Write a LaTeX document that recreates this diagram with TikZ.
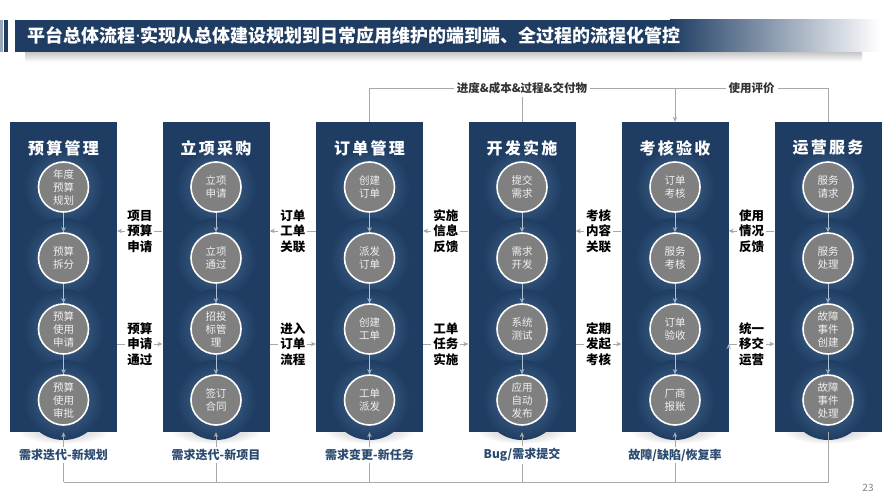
\documentclass[tikz,border=0pt]{standalone}
\usepackage{fontspec}
\setmainfont{Noto Sans CJK SC}
\newfontfamily\paneltitlefont{Noto Sans CJK SC}[LetterSpace=14]
\newfontfamily\latinfont{Noto Sans}
\usetikzlibrary{arrows.meta}

\definecolor{navy}{HTML}{1F3D63}
\definecolor{glow}{HTML}{4C6F96}
\definecolor{stepgray}{HTML}{808080}
\definecolor{linegray}{HTML}{A8A8A8}
\definecolor{labelnavy}{HTML}{2B4A70}
\definecolor{steparrow}{HTML}{AFC1D4}

\begin{document}
\begin{tikzpicture}[x=1pt,y=-1pt,>={Stealth[length=5pt,width=4.5pt]},
  panel/.style={fill=navy,minimum width=107pt,minimum height=310pt,inner sep=0pt},
  panel title/.style={text=white,font=\paneltitlefont\bfseries\fontsize{16}{18}\selectfont},
  step node/.style={circle,fill=stepgray,draw=white,line width=1.6pt,minimum size=50pt,
    inner sep=0pt,align=center,text=white!88!gray,font=\fontsize{10.5}{13}\selectfont},
  step arrow/.style={->,draw=steparrow,line width=0.6pt},
  feed/.style={draw=linegray,line width=0.8pt},
  flow/.style={->,draw=linegray,line width=0.8pt},
  flow label/.style={fill=white,inner sep=2pt,align=center,
    font=\bfseries\fontsize{12.5}{15.5}\selectfont},
  top label/.style={fill=white,inner sep=3pt,text=black!80,font=\bfseries\fontsize{11.5}{13}\selectfont},
  bottom label/.style={fill=white,inner sep=2pt,text=labelnavy,font=\bfseries\fontsize{12}{14}\selectfont}]

  \useasboundingbox (0,0) rectangle (888,500);

  % title bar
  \shade[top color=gray!45,bottom color=white] (25,52) rectangle (862,62);
  \fill[navy!45] (0,20) rectangle (3,52);
  \fill[navy] (4,20) rectangle (8,52);
  \fill[navy] (15,20) rectangle (670,52);
  \shade[left color=navy,right color=white] (670,20) rectangle (880,52);
  \node[anchor=west,text=white,font=\bfseries\fontsize{18}{20}\selectfont] (title) at (24,36)
    {平台总体流程{\latinfont\bfseries·}实现从总体建设规划到日常应用维护的端到端、全过程的流程化管控};

  % soft shadow under the panels
  \foreach \cx in {63.5,216,369.5,522,675,828}
    \shade[inner color=gray!55,outer color=white] (\cx,431) ellipse (46 and 13);

  % panels
  \node[panel] (budget)  at (63.5,277) {};
  \node[panel] (project) at (216,277) {};
  \node[panel] (order)   at (369.5,277) {};
  \node[panel] (develop) at (522,277) {};
  \node[panel] (accept)  at (675,277) {};
  \node[panel] (operate) at (828,277) {};

  \foreach \cx in {63.5,216,369.5,522,675,828}
    \foreach \cy in {187,258,329,400}
      \shade[inner color=glow,outer color=navy] (\cx,\cy) circle (40);

  \node[panel title] (budget title)  at (63.5,148) {预算管理};
  \node[panel title] (project title) at (216,148) {立项采购};
  \node[panel title] (order title)   at (369.5,148) {订单管理};
  \node[panel title] (develop title) at (522,148) {开发实施};
  \node[panel title] (accept title)  at (675,148) {考核验收};
  \node[panel title] (operate title) at (828,148) {运营服务};

  % steps
  \node[step node] (b1) at (63.5,187) {年度\\预算\\规划};
  \node[step node] (b2) at (63.5,258) {预算\\拆分};
  \node[step node] (b3) at (63.5,329) {预算\\使用\\申请};
  \node[step node] (b4) at (63.5,400) {预算\\使用\\审批};
  \node[step node] (pj1) at (216,187) {立项\\申请};
  \node[step node] (pj2) at (216,258) {立项\\通过};
  \node[step node] (pj3) at (216,329) {招投\\标管\\理};
  \node[step node] (pj4) at (216,400) {签订\\合同};
  \node[step node] (od1) at (369.5,187) {创建\\订单};
  \node[step node] (od2) at (369.5,258) {派发\\订单};
  \node[step node] (od3) at (369.5,329) {创建\\工单};
  \node[step node] (od4) at (369.5,400) {工单\\派发};
  \node[step node] (dv1) at (522,187) {提交\\需求};
  \node[step node] (dv2) at (522,258) {需求\\开发};
  \node[step node] (dv3) at (522,329) {系统\\测试};
  \node[step node] (dv4) at (522,400) {应用\\自动\\发布};
  \node[step node] (ac1) at (675,187) {订单\\考核};
  \node[step node] (ac2) at (675,258) {服务\\考核};
  \node[step node] (ac3) at (675,329) {订单\\验收};
  \node[step node] (ac4) at (675,400) {厂商\\报账};
  \node[step node] (op1) at (828,187) {服务\\请求};
  \node[step node] (op2) at (828,258) {服务\\处理};
  \node[step node] (op3) at (828,329) {故障\\事件\\创建};
  \node[step node] (op4) at (828,400) {故障\\事件\\处理};

  \path[step arrow]
    (b1) edge (b2) (b2) edge (b3) (b3) edge (b4)
    (pj1) edge (pj2) (pj2) edge (pj3) (pj3) edge (pj4)
    (od1) edge (od2) (od2) edge (od3) (od3) edge (od4)
    (dv1) edge (dv2) (dv2) edge (dv3) (dv3) edge (dv4)
    (ac1) edge (ac2) (ac2) edge (ac3) (ac3) edge (ac4)
    (op1) edge (op2) (op2) edge (op3) (op3) edge (op4);

  % hand-over between panels: back at the top, forward below
  \path[flow]
    ([yshift=46pt]project.west) edge node[flow label] {项目\\预算\\申请} ([yshift=46pt]budget.east)
    ([yshift=46pt]order.west)   edge node[flow label] {订单\\工单\\关联} ([yshift=46pt]project.east)
    ([yshift=46pt]develop.west) edge node[flow label] {实施\\信息\\反馈} ([yshift=46pt]order.east)
    ([yshift=46pt]accept.west)  edge node[flow label] {考核\\内容\\关联} ([yshift=46pt]develop.east)
    ([yshift=46pt]operate.west) edge node[flow label] {使用\\情况\\反馈} ([yshift=46pt]accept.east)
    ([yshift=-67pt]budget.east)  edge node[flow label] {预算\\申请\\通过} ([yshift=-67pt]project.west)
    ([yshift=-67pt]project.east) edge node[flow label] {进入\\订单\\流程} ([yshift=-67pt]order.west)
    ([yshift=-67pt]order.east)   edge node[flow label] {工单\\任务\\实施} ([yshift=-67pt]develop.west)
    ([yshift=-67pt]develop.east) edge node[flow label] {定期\\发起\\考核} ([yshift=-67pt]accept.west)
    ([yshift=-67pt]accept.east)  edge node[flow label] {统一\\移交\\运营} ([yshift=-67pt]operate.west);

  % evaluation line on top
  \coordinate (feed top) at (369.5,88);
  \draw[feed] (order.north) |- (operate.north |- feed top) -- (operate.north);
  \draw[feed] (develop.north) -- (develop.north |- feed top);
  \draw[flow] (accept.north |- feed top) -- (accept.north);
  \node[top label] (progress) at (develop.north |- feed top) {进度\&成本\&过程\&交付物};
  \node[top label] (rating) at (751.5,88) {使用评价};

  % iteration line at the bottom
  \coordinate (base) at (63.5,482);
  \draw[feed] (operate.south) |- (base);
  \node[bottom label] (need1) at (63.5,455) {需求迭代-新规划};
  \node[bottom label] (need2) at (216,455) {需求迭代-新项目};
  \node[bottom label] (need3) at (369.5,455) {需求变更-新任务};
  \node[bottom label] (need4) at (522,455) {Bug/需求提交};
  \node[bottom label] (need5) at (675,455) {故障/缺陷/恢复率};
  \draw[flow] (need1) -- (budget.south);
  \draw[flow] (need2) -- (project.south);
  \draw[flow] (need3) -- (order.south);
  \draw[flow] (need4) -- (develop.south);
  \draw[flow] (need5) -- (accept.south);
  \draw[feed] (need1) -- (need1 |- base);
  \draw[feed] (need2) -- (need2 |- base);
  \draw[feed] (need3) -- (need3 |- base);
  \draw[feed] (need4) -- (need4 |- base);
  \draw[feed] (need5) -- (need5 |- base);

  \node[text=gray,font=\fontsize{10}{12}\selectfont] (page) at (868,488) {23};
\end{tikzpicture}
\end{document}
